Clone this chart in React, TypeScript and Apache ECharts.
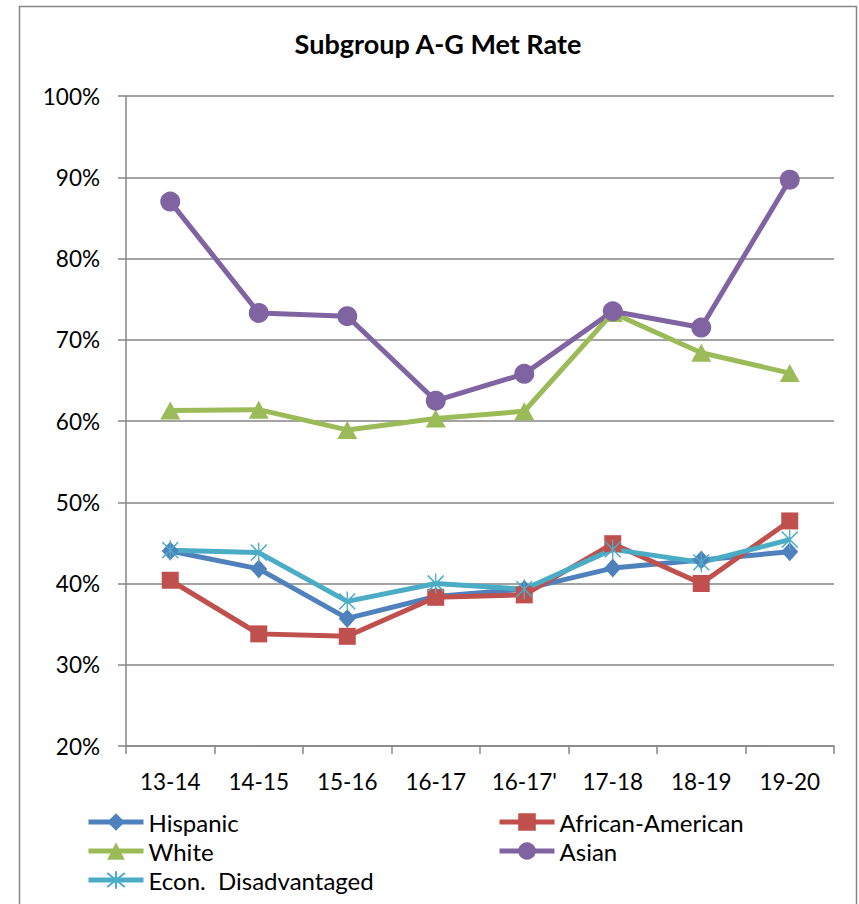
import { useEffect, useRef } from "react";
import * as echarts from "echarts";

const categories = ["13-14", "14-15", "15-16", "16-17", "16-17'", "17-18", "18-19", "19-20"];
const hispanic = [44.0, 41.8, 35.7, 38.4, 39.3, 41.9, 42.9, 43.9];
const africanAmerican = [40.4, 33.8, 33.5, 38.3, 38.6, 44.9, 40.0, 47.7];
const white = [61.3, 61.4, 58.9, 60.3, 61.2, 73.3, 68.4, 65.9];
const asian = [87.0, 73.3, 72.9, 62.5, 65.8, 73.5, 71.5, 89.7];
const econ = [44.1, 43.8, 37.8, 40.0, 39.3, 44.2, 42.6, 45.4];
const yMin = 20;
const yMax = 100;
const yStep = 10;

const FONT = "Lato";
const GRAY = "#868686";
const ASTERISK = "path://M2,2L18,18M18,2L2,18M10,0L10,20";

export default function App() {
  const ref = useRef<HTMLDivElement>(null);
  useEffect(() => {
    if (!ref.current) return;
    const chart = echarts.init(ref.current, undefined, { renderer: "svg" });
    const mk = (name: string, data: number[], color: string, symbol: string, size: any, extra: any = {}) => ({
      name,
      type: "line",
      data,
      symbol,
      symbolSize: size,
      lineStyle: { color, width: 5 },
      itemStyle: { color, ...extra },
      emphasis: { disabled: true },
    });
    const legendBase = {
      orient: "vertical",
      top: 810,
      itemWidth: 55,
      itemHeight: 22,
      itemGap: 5,
      padding: 0,
      lineStyle: { width: 5 },
      textStyle: { fontFamily: FONT, fontSize: 24, color: "#000" },
    };
    chart.setOption({
      animation: false,
      backgroundColor: "#ffffff",
      title: {
        text: "Subgroup A-G Met Rate",
        left: 438,
        top: 30,
        padding: 0,
        textAlign: "center",
        textStyle: { fontFamily: FONT, fontSize: 27, fontWeight: "bold", color: "#000" },
      },
      graphic: [
        {
          type: "rect",
          shape: { x: 19.5, y: 6.5, width: 837, height: 930 },
          style: { fill: "none", stroke: GRAY, lineWidth: 1.5 },
          silent: true,
        },
      ],
      grid: { left: 126, right: 25, top: 96, bottom: 158, containLabel: false },
      legend: [
        { ...legendBase, left: 86, data: ["Hispanic", "White", "Econ.  Disadvantaged"] },
        { ...legendBase, left: 497, data: ["African-American", "Asian"] },
      ],
      xAxis: {
        type: "category",
        data: categories,
        boundaryGap: true,
        axisLine: { show: true, lineStyle: { color: GRAY, width: 1.5 } },
        axisTick: { show: true, length: 8, lineStyle: { color: GRAY, width: 1.5 } },
        axisLabel: { margin: 24, fontFamily: FONT, fontSize: 22.5, color: "#000" },
        splitLine: { show: false },
      },
      yAxis: {
        type: "value",
        min: yMin,
        max: yMax,
        interval: yStep,
        axisLine: { show: true, lineStyle: { color: GRAY, width: 1.5 } },
        axisTick: { show: true, length: 8, lineStyle: { color: GRAY, width: 1.5 } },
        axisLabel: { margin: 26, formatter: "{value}%", fontFamily: FONT, fontSize: 22.5, color: "#000" },
        splitLine: { show: true, lineStyle: { color: GRAY, width: 1.5 } },
      },
      series: [
        mk("Hispanic", hispanic, "#4F81BD", "diamond", [17, 19]),
        mk("African-American", africanAmerican, "#C0504D", "rect", 17),
        mk("White", white, "#9BBB59", "triangle", [20, 18]),
        mk("Asian", asian, "#8064A2", "circle", 20),
        mk("Econ.  Disadvantaged", econ, "#4BACC6", ASTERISK, [16, 20], {
          borderColor: "#4BACC6",
          borderWidth: 1.5,
        }),
      ],
    });
    return () => chart.dispose();
  }, []);
  return (
    <div
      ref={ref}
      style={{ position: "fixed", left: 0, top: 0, width: 859, height: 904, background: "#fff" }}
    />
  );
}
